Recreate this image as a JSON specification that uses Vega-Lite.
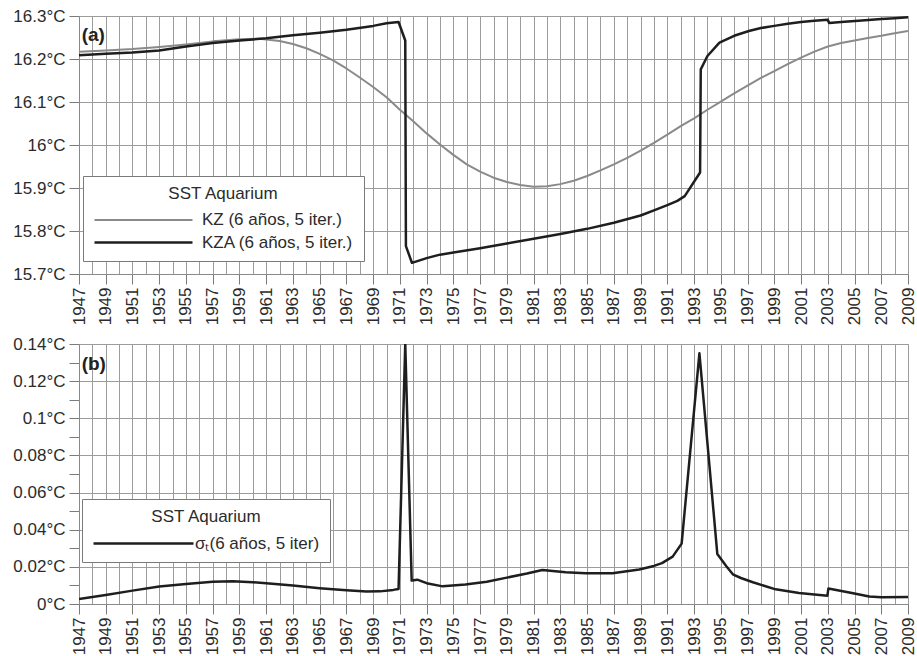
{
  "$schema": "https://vega.github.io/schema/vega-lite/v6.json",
  "padding": {"left": 12, "top": 6, "right": 4, "bottom": 0},
  "spacing": 8,
  "config": {
    "font": "Liberation Sans",
    "view": {"stroke": "#8a8a8a", "strokeWidth": 1},
    "axis": {
      "labelFont": "Liberation Sans",
      "labelFontSize": 17,
      "labelColor": "#2b2b2b",
      "gridColor": "#9c9c9c",
      "gridOpacity": 1,
      "gridWidth": 1,
      "tickColor": "#7a7a7a",
      "tickSize": 10,
      "tickCount": 200,
      "domainColor": "#8a8a8a",
      "title": null,
      "labelPadding": 4,
      "labelOverlap": false
    },
    "legend": {
      "titleFont": "Liberation Sans",
      "labelFont": "Liberation Sans"
    }
  },
  "datasets": {
    "top": [
      {"series": "KZ (6 años, 5 iter.)", "year": 1947, "sst": 16.217},
      {"series": "KZ (6 años, 5 iter.)", "year": 1949, "sst": 16.220},
      {"series": "KZ (6 años, 5 iter.)", "year": 1951, "sst": 16.223},
      {"series": "KZ (6 años, 5 iter.)", "year": 1953, "sst": 16.228},
      {"series": "KZ (6 años, 5 iter.)", "year": 1955, "sst": 16.234},
      {"series": "KZ (6 años, 5 iter.)", "year": 1957, "sst": 16.241},
      {"series": "KZ (6 años, 5 iter.)", "year": 1959, "sst": 16.246},
      {"series": "KZ (6 años, 5 iter.)", "year": 1960.5, "sst": 16.247},
      {"series": "KZ (6 años, 5 iter.)", "year": 1962, "sst": 16.242},
      {"series": "KZ (6 años, 5 iter.)", "year": 1963, "sst": 16.235},
      {"series": "KZ (6 años, 5 iter.)", "year": 1964, "sst": 16.225},
      {"series": "KZ (6 años, 5 iter.)", "year": 1965, "sst": 16.212},
      {"series": "KZ (6 años, 5 iter.)", "year": 1966, "sst": 16.197},
      {"series": "KZ (6 años, 5 iter.)", "year": 1967, "sst": 16.178},
      {"series": "KZ (6 años, 5 iter.)", "year": 1968, "sst": 16.157},
      {"series": "KZ (6 años, 5 iter.)", "year": 1969, "sst": 16.135},
      {"series": "KZ (6 años, 5 iter.)", "year": 1970, "sst": 16.111},
      {"series": "KZ (6 años, 5 iter.)", "year": 1971, "sst": 16.082},
      {"series": "KZ (6 años, 5 iter.)", "year": 1972, "sst": 16.055},
      {"series": "KZ (6 años, 5 iter.)", "year": 1973, "sst": 16.027},
      {"series": "KZ (6 años, 5 iter.)", "year": 1974, "sst": 16.001},
      {"series": "KZ (6 años, 5 iter.)", "year": 1975, "sst": 15.977},
      {"series": "KZ (6 años, 5 iter.)", "year": 1976, "sst": 15.955},
      {"series": "KZ (6 años, 5 iter.)", "year": 1977, "sst": 15.938},
      {"series": "KZ (6 años, 5 iter.)", "year": 1978, "sst": 15.924},
      {"series": "KZ (6 años, 5 iter.)", "year": 1979, "sst": 15.914},
      {"series": "KZ (6 años, 5 iter.)", "year": 1980, "sst": 15.907},
      {"series": "KZ (6 años, 5 iter.)", "year": 1981, "sst": 15.903},
      {"series": "KZ (6 años, 5 iter.)", "year": 1982, "sst": 15.904},
      {"series": "KZ (6 años, 5 iter.)", "year": 1983, "sst": 15.909},
      {"series": "KZ (6 años, 5 iter.)", "year": 1984, "sst": 15.917},
      {"series": "KZ (6 años, 5 iter.)", "year": 1985, "sst": 15.928},
      {"series": "KZ (6 años, 5 iter.)", "year": 1986, "sst": 15.941},
      {"series": "KZ (6 años, 5 iter.)", "year": 1987, "sst": 15.955},
      {"series": "KZ (6 años, 5 iter.)", "year": 1988, "sst": 15.970},
      {"series": "KZ (6 años, 5 iter.)", "year": 1989, "sst": 15.987},
      {"series": "KZ (6 años, 5 iter.)", "year": 1990, "sst": 16.005},
      {"series": "KZ (6 años, 5 iter.)", "year": 1991, "sst": 16.024},
      {"series": "KZ (6 años, 5 iter.)", "year": 1992, "sst": 16.044},
      {"series": "KZ (6 años, 5 iter.)", "year": 1993, "sst": 16.062},
      {"series": "KZ (6 años, 5 iter.)", "year": 1994, "sst": 16.082},
      {"series": "KZ (6 años, 5 iter.)", "year": 1995, "sst": 16.101},
      {"series": "KZ (6 años, 5 iter.)", "year": 1996, "sst": 16.120},
      {"series": "KZ (6 años, 5 iter.)", "year": 1997, "sst": 16.138},
      {"series": "KZ (6 años, 5 iter.)", "year": 1998, "sst": 16.156},
      {"series": "KZ (6 años, 5 iter.)", "year": 1999, "sst": 16.172},
      {"series": "KZ (6 años, 5 iter.)", "year": 2000, "sst": 16.188},
      {"series": "KZ (6 años, 5 iter.)", "year": 2001, "sst": 16.203},
      {"series": "KZ (6 años, 5 iter.)", "year": 2002, "sst": 16.217},
      {"series": "KZ (6 años, 5 iter.)", "year": 2003, "sst": 16.229},
      {"series": "KZ (6 años, 5 iter.)", "year": 2004, "sst": 16.237},
      {"series": "KZ (6 años, 5 iter.)", "year": 2005, "sst": 16.243},
      {"series": "KZ (6 años, 5 iter.)", "year": 2006, "sst": 16.249},
      {"series": "KZ (6 años, 5 iter.)", "year": 2007, "sst": 16.254},
      {"series": "KZ (6 años, 5 iter.)", "year": 2008, "sst": 16.260},
      {"series": "KZ (6 años, 5 iter.)", "year": 2009, "sst": 16.265},
      {"series": "KZA (6 años, 5 iter.)", "year": 1947, "sst": 16.209},
      {"series": "KZA (6 años, 5 iter.)", "year": 1949, "sst": 16.212},
      {"series": "KZA (6 años, 5 iter.)", "year": 1951, "sst": 16.215},
      {"series": "KZA (6 años, 5 iter.)", "year": 1953, "sst": 16.220},
      {"series": "KZA (6 años, 5 iter.)", "year": 1955, "sst": 16.229},
      {"series": "KZA (6 años, 5 iter.)", "year": 1957, "sst": 16.237},
      {"series": "KZA (6 años, 5 iter.)", "year": 1959, "sst": 16.243},
      {"series": "KZA (6 años, 5 iter.)", "year": 1961, "sst": 16.248},
      {"series": "KZA (6 años, 5 iter.)", "year": 1963, "sst": 16.255},
      {"series": "KZA (6 años, 5 iter.)", "year": 1965, "sst": 16.261},
      {"series": "KZA (6 años, 5 iter.)", "year": 1967, "sst": 16.268},
      {"series": "KZA (6 años, 5 iter.)", "year": 1969, "sst": 16.277},
      {"series": "KZA (6 años, 5 iter.)", "year": 1970, "sst": 16.283},
      {"series": "KZA (6 años, 5 iter.)", "year": 1970.9, "sst": 16.286},
      {"series": "KZA (6 años, 5 iter.)", "year": 1971.4, "sst": 16.243},
      {"series": "KZA (6 años, 5 iter.)", "year": 1971.45, "sst": 15.765},
      {"series": "KZA (6 años, 5 iter.)", "year": 1971.9, "sst": 15.726},
      {"series": "KZA (6 años, 5 iter.)", "year": 1973, "sst": 15.737},
      {"series": "KZA (6 años, 5 iter.)", "year": 1974, "sst": 15.745},
      {"series": "KZA (6 años, 5 iter.)", "year": 1975, "sst": 15.750},
      {"series": "KZA (6 años, 5 iter.)", "year": 1977, "sst": 15.760},
      {"series": "KZA (6 años, 5 iter.)", "year": 1979, "sst": 15.771},
      {"series": "KZA (6 años, 5 iter.)", "year": 1981, "sst": 15.782},
      {"series": "KZA (6 años, 5 iter.)", "year": 1983, "sst": 15.793},
      {"series": "KZA (6 años, 5 iter.)", "year": 1985, "sst": 15.805},
      {"series": "KZA (6 años, 5 iter.)", "year": 1987, "sst": 15.819},
      {"series": "KZA (6 años, 5 iter.)", "year": 1989, "sst": 15.836},
      {"series": "KZA (6 años, 5 iter.)", "year": 1990, "sst": 15.848},
      {"series": "KZA (6 años, 5 iter.)", "year": 1991, "sst": 15.860},
      {"series": "KZA (6 años, 5 iter.)", "year": 1991.75, "sst": 15.870},
      {"series": "KZA (6 años, 5 iter.)", "year": 1992.3, "sst": 15.881},
      {"series": "KZA (6 años, 5 iter.)", "year": 1993.45, "sst": 15.936},
      {"series": "KZA (6 años, 5 iter.)", "year": 1993.5, "sst": 16.176},
      {"series": "KZA (6 años, 5 iter.)", "year": 1994, "sst": 16.207},
      {"series": "KZA (6 años, 5 iter.)", "year": 1994.9, "sst": 16.238},
      {"series": "KZA (6 años, 5 iter.)", "year": 1996, "sst": 16.254},
      {"series": "KZA (6 años, 5 iter.)", "year": 1997.1, "sst": 16.265},
      {"series": "KZA (6 años, 5 iter.)", "year": 1998, "sst": 16.272},
      {"series": "KZA (6 años, 5 iter.)", "year": 1999, "sst": 16.277},
      {"series": "KZA (6 años, 5 iter.)", "year": 2000, "sst": 16.282},
      {"series": "KZA (6 años, 5 iter.)", "year": 2001, "sst": 16.286},
      {"series": "KZA (6 años, 5 iter.)", "year": 2002, "sst": 16.289},
      {"series": "KZA (6 años, 5 iter.)", "year": 2003, "sst": 16.291},
      {"series": "KZA (6 años, 5 iter.)", "year": 2003.1, "sst": 16.284},
      {"series": "KZA (6 años, 5 iter.)", "year": 2004, "sst": 16.286},
      {"series": "KZA (6 años, 5 iter.)", "year": 2005.8, "sst": 16.290},
      {"series": "KZA (6 años, 5 iter.)", "year": 2007, "sst": 16.293},
      {"series": "KZA (6 años, 5 iter.)", "year": 2008, "sst": 16.295},
      {"series": "KZA (6 años, 5 iter.)", "year": 2009, "sst": 16.297}
    ],
    "sigma": [
      {"series": "σₜ(6 años, 5 iter)", "year": 1947, "sd": 0.0027},
      {"series": "σₜ(6 años, 5 iter)", "year": 1949, "sd": 0.0048},
      {"series": "σₜ(6 años, 5 iter)", "year": 1951, "sd": 0.0072},
      {"series": "σₜ(6 años, 5 iter)", "year": 1953, "sd": 0.0094},
      {"series": "σₜ(6 años, 5 iter)", "year": 1955, "sd": 0.0108},
      {"series": "σₜ(6 años, 5 iter)", "year": 1957, "sd": 0.0120},
      {"series": "σₜ(6 años, 5 iter)", "year": 1958.5, "sd": 0.0122},
      {"series": "σₜ(6 años, 5 iter)", "year": 1960, "sd": 0.0117},
      {"series": "σₜ(6 años, 5 iter)", "year": 1961, "sd": 0.0112},
      {"series": "σₜ(6 años, 5 iter)", "year": 1963, "sd": 0.0099},
      {"series": "σₜ(6 años, 5 iter)", "year": 1965, "sd": 0.0085},
      {"series": "σₜ(6 años, 5 iter)", "year": 1967, "sd": 0.0074},
      {"series": "σₜ(6 años, 5 iter)", "year": 1968.5, "sd": 0.0067},
      {"series": "σₜ(6 años, 5 iter)", "year": 1969.5, "sd": 0.0068},
      {"series": "σₜ(6 años, 5 iter)", "year": 1970.5, "sd": 0.0076},
      {"series": "σₜ(6 años, 5 iter)", "year": 1970.9, "sd": 0.0081},
      {"series": "σₜ(6 años, 5 iter)", "year": 1971.4, "sd": 0.140},
      {"series": "σₜ(6 años, 5 iter)", "year": 1971.88, "sd": 0.0126},
      {"series": "σₜ(6 años, 5 iter)", "year": 1972.3, "sd": 0.0131},
      {"series": "σₜ(6 años, 5 iter)", "year": 1973, "sd": 0.0112},
      {"series": "σₜ(6 años, 5 iter)", "year": 1974.2, "sd": 0.0095},
      {"series": "σₜ(6 años, 5 iter)", "year": 1975.9, "sd": 0.0105},
      {"series": "σₜ(6 años, 5 iter)", "year": 1977.5, "sd": 0.0120},
      {"series": "σₜ(6 años, 5 iter)", "year": 1979, "sd": 0.0142},
      {"series": "σₜ(6 años, 5 iter)", "year": 1980.5, "sd": 0.0164},
      {"series": "σₜ(6 años, 5 iter)", "year": 1981.65, "sd": 0.0183},
      {"series": "σₜ(6 años, 5 iter)", "year": 1983.4, "sd": 0.0171},
      {"series": "σₜ(6 años, 5 iter)", "year": 1984.9, "sd": 0.0165},
      {"series": "σₜ(6 años, 5 iter)", "year": 1986.9, "sd": 0.0165},
      {"series": "σₜ(6 años, 5 iter)", "year": 1988.9, "sd": 0.0186},
      {"series": "σₜ(6 años, 5 iter)", "year": 1990, "sd": 0.0205},
      {"series": "σₜ(6 años, 5 iter)", "year": 1990.6, "sd": 0.0220},
      {"series": "σₜ(6 años, 5 iter)", "year": 1991.4, "sd": 0.0255},
      {"series": "σₜ(6 años, 5 iter)", "year": 1992.07, "sd": 0.0325},
      {"series": "σₜ(6 años, 5 iter)", "year": 1993.4, "sd": 0.135},
      {"series": "σₜ(6 años, 5 iter)", "year": 1994.74, "sd": 0.0269},
      {"series": "σₜ(6 años, 5 iter)", "year": 1995.4, "sd": 0.0205},
      {"series": "σₜ(6 años, 5 iter)", "year": 1995.9, "sd": 0.0160},
      {"series": "σₜ(6 años, 5 iter)", "year": 1996.5, "sd": 0.0140},
      {"series": "σₜ(6 años, 5 iter)", "year": 1997.4, "sd": 0.0117},
      {"series": "σₜ(6 años, 5 iter)", "year": 1999.1, "sd": 0.0079},
      {"series": "σₜ(6 años, 5 iter)", "year": 2000.85, "sd": 0.0059},
      {"series": "σₜ(6 años, 5 iter)", "year": 2002.97, "sd": 0.0045},
      {"series": "σₜ(6 años, 5 iter)", "year": 2003.05, "sd": 0.0084},
      {"series": "σₜ(6 años, 5 iter)", "year": 2004.8, "sd": 0.0059},
      {"series": "σₜ(6 años, 5 iter)", "year": 2006.1, "sd": 0.0040},
      {"series": "σₜ(6 años, 5 iter)", "year": 2007, "sd": 0.0036},
      {"series": "σₜ(6 años, 5 iter)", "year": 2009, "sd": 0.0038}
    ]
  },
  "vconcat": [
    {
      "width": 829,
      "height": 258,
      "layer": [
        {
          "data": {"name": "top"},
          "mark": {"type": "line", "clip": true, "strokeJoin": "round"},
          "encoding": {
            "x": {
              "field": "year", "type": "quantitative",
              "scale": {"domain": [1947, 2009], "nice": false, "zero": false},
              "axis": {
                "values": [1947,1948,1949,1950,1951,1952,1953,1954,1955,1956,1957,1958,1959,1960,1961,1962,1963,1964,1965,1966,1967,1968,1969,1970,1971,1972,1973,1974,1975,1976,1977,1978,1979,1980,1981,1982,1983,1984,1985,1986,1987,1988,1989,1990,1991,1992,1993,1994,1995,1996,1997,1998,1999,2000,2001,2002,2003,2004,2005,2006,2007,2008,2009],
                "tickCount": 200,
                "labelExpr": "datum.value % 2 == 1 ? format(datum.value, 'd') : ''",
                "labelAngle": 270,
                "labelOverlap": false,
                "labelFlush": false,
                "labelPadding": 3,
                "tickOpacity": {"condition": {"test": "datum.value % 2 == 0", "value": 0}, "value": 1},
                "grid": true
              }
            },
            "y": {
              "field": "sst", "type": "quantitative",
              "scale": {"domain": [15.7, 16.3], "nice": false, "zero": false},
              "axis": {
                "values": [15.7, 15.8, 15.9, 16, 16.1, 16.2, 16.3],
                "tickCount": 200,
                "labelExpr": "format(datum.value, '~g') + '°C'",
                "grid": true
              }
            },
            "color": {
              "field": "series", "type": "nominal",
              "scale": {"domain": ["KZ (6 años, 5 iter.)", "KZA (6 años, 5 iter.)"], "range": ["#8a8a8a", "#1e1e1e"]},
              "legend": {
                "orient": "none", "legendX": 4, "legendY": 160,
                "title": "SST Aquarium", "titleAnchor": "middle", "titleFontSize": 17, "titleFontWeight": "normal", "titleColor": "#2b2b2b", "titlePadding": 6,
                "labelFontSize": 17, "labelColor": "#2b2b2b", "labelOffset": 86, "labelLimit": 400,
                "symbolType": "M-1,0H8.8", "symbolSize": 400, "symbolStrokeWidth": 2.5, "symbolFillColor": "transparent",
                "fillColor": "white", "strokeColor": "#7a7a7a", "padding": 10, "rowPadding": 3
              }
            },
            "strokeWidth": {
              "field": "series", "type": "nominal",
              "scale": {"domain": ["KZ (6 años, 5 iter.)", "KZA (6 años, 5 iter.)"], "range": [2, 2.5]},
              "legend": null
            }
          }
        },
        {
          "data": {"values": [{"panel": "(a)"}]},
          "mark": {"type": "text", "align": "left", "baseline": "middle", "fontSize": 19, "fontWeight": "bold", "color": "#222222"},
          "encoding": {
            "x": {"datum": 1947.2, "type": "quantitative"},
            "y": {"datum": 16.256, "type": "quantitative"},
            "text": {"field": "panel"}
          }
        }
      ]
    },
    {
      "width": 829,
      "height": 260,
      "layer": [
        {
          "data": {"name": "sigma"},
          "mark": {"type": "line", "clip": true, "strokeJoin": "round", "strokeWidth": 2.5},
          "encoding": {
            "x": {
              "field": "year", "type": "quantitative",
              "scale": {"domain": [1947, 2009], "nice": false, "zero": false},
              "axis": {
                "values": [1947,1948,1949,1950,1951,1952,1953,1954,1955,1956,1957,1958,1959,1960,1961,1962,1963,1964,1965,1966,1967,1968,1969,1970,1971,1972,1973,1974,1975,1976,1977,1978,1979,1980,1981,1982,1983,1984,1985,1986,1987,1988,1989,1990,1991,1992,1993,1994,1995,1996,1997,1998,1999,2000,2001,2002,2003,2004,2005,2006,2007,2008,2009],
                "tickCount": 200,
                "labelExpr": "datum.value % 2 == 1 ? format(datum.value, 'd') : ''",
                "labelAngle": 270,
                "labelOverlap": false,
                "labelFlush": false,
                "labelPadding": 3,
                "tickOpacity": {"condition": {"test": "datum.value % 2 == 0", "value": 0}, "value": 1},
                "grid": true
              }
            },
            "y": {
              "field": "sd", "type": "quantitative",
              "scale": {"domain": [0, 0.14], "nice": false, "zero": false},
              "axis": {
                "values": [0, 0.01, 0.02, 0.03, 0.04, 0.05, 0.06, 0.07, 0.08, 0.09, 0.1, 0.11, 0.12, 0.13, 0.14],
                "tickCount": 200,
                "labelExpr": "round(datum.value * 100) % 2 == 0 ? format(datum.value, '~g') + '°C' : ''",
                "gridOpacity": {"condition": {"test": "round(datum.value * 100) % 2 == 1", "value": 0}, "value": 1},
                "grid": true
              }
            },
            "color": {
              "field": "series", "type": "nominal",
              "scale": {"domain": ["σₜ(6 años, 5 iter)"], "range": ["#1e1e1e"]},
              "legend": {
                "orient": "none", "legendX": 3, "legendY": 155,
                "title": "SST Aquarium", "titleAnchor": "middle", "titleFontSize": 17, "titleFontWeight": "normal", "titleColor": "#2b2b2b", "titlePadding": 6,
                "labelFontSize": 17, "labelColor": "#2b2b2b", "labelOffset": 80, "labelLimit": 400,
                "symbolType": "M-1,0H9", "symbolSize": 400, "symbolStrokeWidth": 2.5, "symbolFillColor": "transparent",
                "fillColor": "white", "strokeColor": "#7a7a7a", "padding": 10, "rowPadding": 3
              }
            }
          }
        },
        {
          "data": {"values": [{"panel": "(b)"}]},
          "mark": {"type": "text", "align": "left", "baseline": "middle", "fontSize": 19, "fontWeight": "bold", "color": "#222222"},
          "encoding": {
            "x": {"datum": 1947.2, "type": "quantitative"},
            "y": {"datum": 0.129, "type": "quantitative"},
            "text": {"field": "panel"}
          }
        }
      ]
    }
  ],
  "resolve": {"scale": {"color": "independent", "strokeWidth": "independent"}}
}
